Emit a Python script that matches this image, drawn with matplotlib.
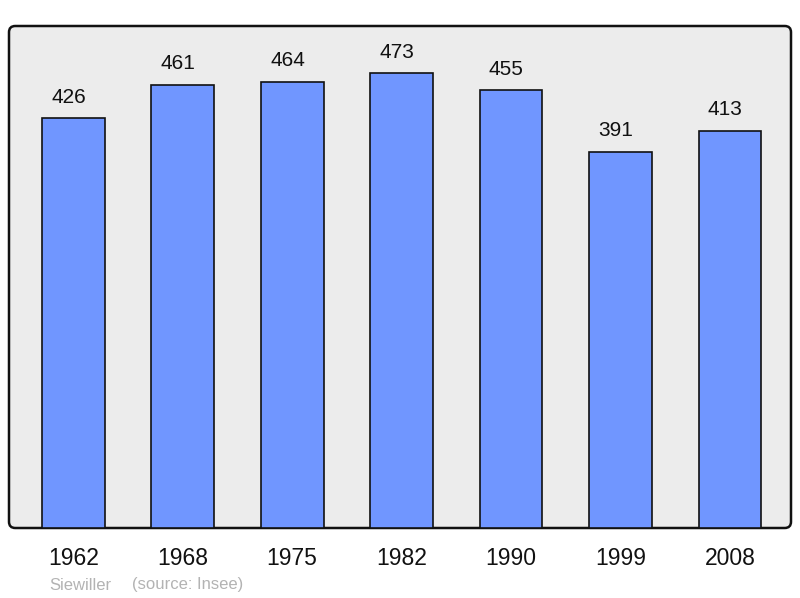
import matplotlib
matplotlib.use("Agg")
import matplotlib.pyplot as plt
from matplotlib.patches import FancyBboxPatch

years = ["1962", "1968", "1975", "1982", "1990", "1999", "2008"]
population = [426, 461, 464, 473, 455, 391, 413]

plt.rcParams['font.family'] = ['Liberation Sans', 'DejaVu Sans']

W, H = 800, 598
fig = plt.figure(figsize=(W / 100, H / 100), dpi=100)
ax = fig.add_axes([9 / W, (H - 528) / H, 782 / W, 502 / H])
ax.patch.set_visible(False)
for s in ax.spines.values():
    s.set_visible(False)

frame = FancyBboxPatch((0, 0), 1, 1, boxstyle="round,pad=0,rounding_size=0.008",
                       mutation_aspect=782 / 502,
                       transform=ax.transAxes, facecolor='#ececec',
                       edgecolor='#111111', linewidth=1.8, zorder=0, clip_on=False)
ax.add_patch(frame)

x = list(range(len(years)))
bars = ax.bar(x, population, width=0.573, color='#7096ff', edgecolor='#111111',
              linewidth=1.2, zorder=2)

for xi, v in zip(x, population):
    ax.annotate(str(v), (xi, v), xytext=(-3.4, 11.2), textcoords='offset points',
                ha='center', va='baseline', fontsize=15, color='#111111')

ax.set_xlim(-0.587, 6.557)
ax.set_ylim(0, 522)
ax.set_yticks([])
ax.set_xticks(x)
ax.set_xticklabels(years, fontsize=16.5, color='#111111')
ax.tick_params(axis='x', length=0, pad=14)

fig.text(49 / W, 1 - 585 / H, "Siewiller", color='#b3b3b3', fontsize=12,
         ha='left', va='center')
fig.text(132 / W, 1 - 585 / H, "(source: Insee)", color='#b3b3b3', fontsize=12,
         ha='left', va='center')

fig.savefig("out.png", dpi=100, facecolor='white')
